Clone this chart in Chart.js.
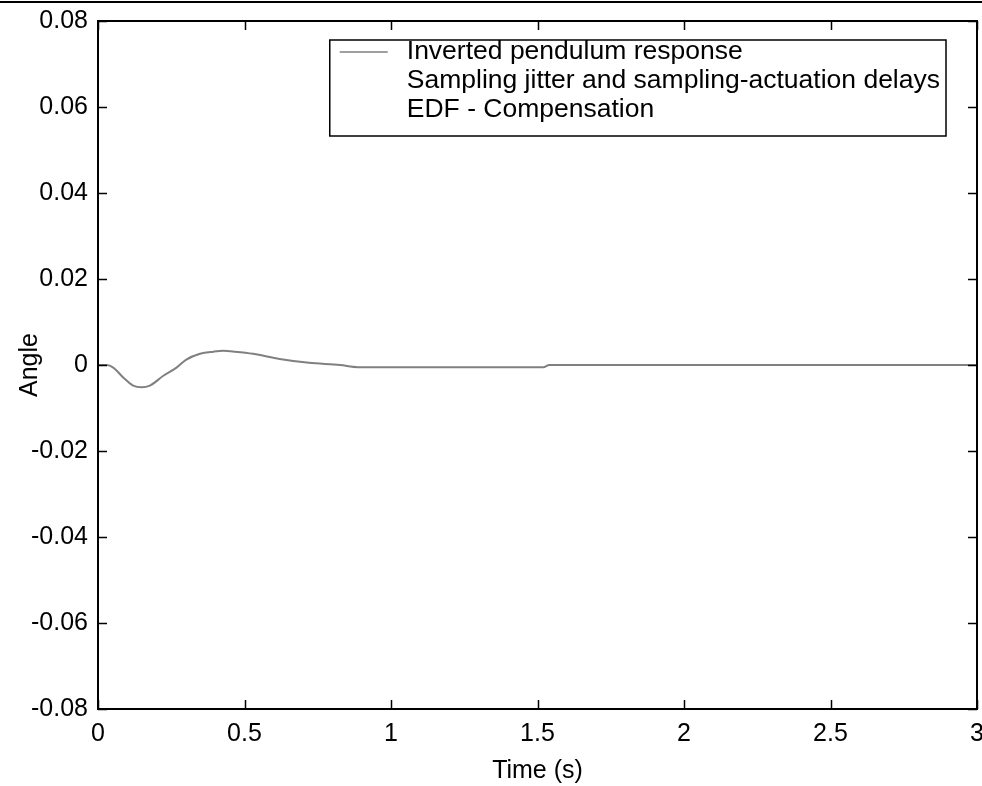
<!DOCTYPE html>
<html>
<head>
<meta charset="utf-8">
<script src="https://cdn.jsdelivr.net/npm/chart.js@4/dist/chart.umd.min.js"></script>
<style>
  body { margin: 0; background: #fff; overflow: hidden; }
  #wrap { position: relative; width: 982px; height: 786px; overflow: hidden; }
  #topRule { position: absolute; left: 0; top: 1px; width: 982px; height: 2px; background: #000; }
</style>
</head>
<body>
<div id="wrap">
  <canvas id="angleChart" width="1000" height="786"></canvas>
  <div id="topRule"></div>
</div>
<script>
// Data
const timeS = [0, 0.03, 0.052, 0.086, 0.12, 0.149, 0.177, 0.223, 0.268, 0.30, 0.348, 0.394, 0.428, 0.468, 0.53, 0.62, 0.72, 0.826, 0.887, 1.0, 1.2, 1.4, 1.52, 1.54, 2.0, 2.5, 3.0];
const angle = [0, 0, -0.0006, -0.0029, -0.0048, -0.0052, -0.0048, -0.0025, -0.0006, 0.0012, 0.0026, 0.0031, 0.0033, 0.0031, 0.0026, 0.0014, 0.0005, 0, -0.0005, -0.0005, -0.0005, -0.0005, -0.0005, 0, 0, 0, 0];
const legendLabels = [
  "Inverted pendulum response",
  "Sampling jitter and sampling-actuation delays",
  "EDF - Compensation",
];
const xTicks = [0, 0.5, 1, 1.5, 2, 2.5, 3];
const yTicks = [-0.08, -0.06, -0.04, -0.02, 0, 0.02, 0.04, 0.06, 0.08];

const FONT = "'Liberation Sans', Arial, sans-serif";
const FONT_SIZE = 25;
const LEGEND_SIZE = 26.5;

// MATLAB-style frame: box plus inward tick marks on all four sides
const framePlugin = {
  id: "frame",
  afterDraw(chart) {
    const { ctx, chartArea: a, scales } = chart;
    ctx.save();
    ctx.strokeStyle = "#000";
    ctx.lineWidth = 1.5;
    ctx.beginPath();
    xTicks.forEach((v) => {
      const px = Math.round(scales.x.getPixelForValue(v)) + 0.5;
      ctx.moveTo(px, a.bottom); ctx.lineTo(px, a.bottom - 9);
      ctx.moveTo(px, a.top); ctx.lineTo(px, a.top + 9);
    });
    yTicks.forEach((v) => {
      const py = Math.round(scales.y.getPixelForValue(v)) + 0.5;
      ctx.moveTo(a.left, py); ctx.lineTo(a.left + 9, py);
      ctx.moveTo(a.right, py); ctx.lineTo(a.right - 9, py);
    });
    ctx.stroke();
    ctx.lineWidth = 2;
    ctx.strokeRect(a.left, a.top, a.right - a.left, a.bottom - a.top);
    ctx.restore();
  },
};

// Legend box drawn inside the axes, top right
const legendPlugin = {
  id: "insideLegend",
  afterDraw(chart) {
    const { ctx, chartArea: a } = chart;
    ctx.save();
    ctx.font = LEGEND_SIZE + "px " + FONT;
    const textW = Math.max(...legendLabels.map((t) => ctx.measureText(t).width));
    const padL = 10, lineLen = 48, gap = 19, padR = 6;
    const w = padL + lineLen + gap + textW + padR;
    const rowH = 29;
    const h = 96;
    const right = a.right - 31;
    const left = right - w;
    const top = a.top + 19;
    ctx.fillStyle = "#fff";
    ctx.fillRect(left, top, w, h);
    ctx.strokeStyle = "#000";
    ctx.lineWidth = 1.5;
    ctx.strokeRect(left, top, w, h);
    ctx.textBaseline = "middle";
    chart.data.datasets.forEach((ds, i) => {
      const y = top + 12 + i * rowH;
      if (ds.data.length) {
        ctx.strokeStyle = ds.borderColor;
        ctx.lineWidth = 1.5;
        ctx.beginPath();
        ctx.moveTo(left + padL, y);
        ctx.lineTo(left + padL + lineLen, y);
        ctx.stroke();
      }
      ctx.fillStyle = "#000";
      ctx.fillText(ds.label, left + padL + lineLen + gap, y);
    });
    ctx.restore();
  },
};

const points = timeS.map((t, i) => ({ x: t, y: angle[i] }));

new Chart(document.getElementById("angleChart"), {
  type: "line",
  data: {
    datasets: [
      {
        label: legendLabels[0],
        data: points,
        borderColor: "#808080",
        borderWidth: 2,
        pointRadius: 0,
        cubicInterpolationMode: "monotone",
      },
      { label: legendLabels[1], data: [], borderColor: "transparent", pointRadius: 0 },
      { label: legendLabels[2], data: [], borderColor: "transparent", pointRadius: 0 },
    ],
  },
  options: {
    responsive: false,
    animation: false,
    layout: { padding: { top: 21, right: 23, left: 0, bottom: 0 } },
    plugins: { legend: { display: false }, tooltip: { enabled: false } },
    scales: {
      x: {
        type: "linear",
        min: 0,
        max: 3,
        afterBuildTicks: (s) => { s.ticks = xTicks.map((v) => ({ value: v })); },
        grid: { display: false },
        border: { display: false },
        ticks: {
          color: "#000",
          font: { family: FONT, size: FONT_SIZE },
          padding: 2,
          maxRotation: 0,
          callback: (v) => String(v),
        },
        title: {
          display: true,
          text: "Time (s)",
          color: "#000",
          font: { family: FONT, size: FONT_SIZE },
          padding: { top: 4, bottom: 0 },
        },
        afterFit: (s) => { s.height = 77; },
      },
      y: {
        min: -0.08,
        max: 0.08,
        afterBuildTicks: (s) => { s.ticks = yTicks.map((v) => ({ value: v })); },
        grid: { display: false },
        border: { display: false },
        ticks: {
          color: "#000",
          font: { family: FONT, size: FONT_SIZE },
          padding: 2,
          callback: (v) => (Math.abs(v) < 1e-9 ? "0" : String(+v.toFixed(2))),
        },
        title: {
          display: true,
          text: "Angle",
          color: "#000",
          font: { family: FONT, size: FONT_SIZE },
          padding: { top: 15, bottom: 0 },
        },
        afterFit: (s) => { s.width = 98; },
      },
    },
  },
  plugins: [framePlugin, legendPlugin],
});
</script>
</body>
</html>
